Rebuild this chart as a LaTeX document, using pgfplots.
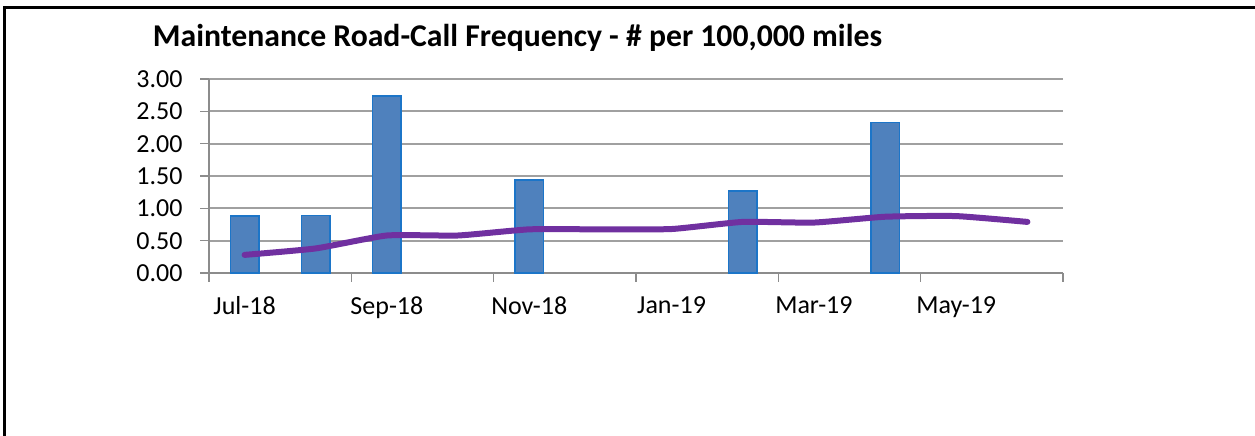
\documentclass[border=0pt]{standalone}
\usepackage{pgfplots}
\pgfplotsset{compat=1.18}
\usepackage{fontspec}
\setmainfont{Carlito}
\definecolor{barfill}{HTML}{4F81BD}
\definecolor{baredge}{HTML}{1C75C8}
\definecolor{linepurple}{HTML}{7030A0}
\definecolor{gridgray}{HTML}{A0A0A0}
\definecolor{axisgray}{HTML}{8C8C8C}
\begin{document}
\begin{tikzpicture}
\path[use as bounding box] (0,0) rectangle (1255bp,436bp);
\draw[black, line width=3bp] (4.5bp,0) -- (4.5bp,428.5bp) -- (1255bp,428.5bp);
\node[anchor=base, font=\fontsize{31.7bp}{36bp}\selectfont\bfseries] at (517.5bp,389bp) {Maintenance Road-Call Frequency - \# per 100,000 miles};
\begin{axis}[
  at={(209bp,163bp)}, anchor=origin,
  scale only axis, width=854bp, height=194bp,
  xmin=0.5, xmax=12.5, ymin=0, ymax=3,
  axis x line*=bottom, axis y line*=left,
  axis line style={axisgray, line width=1.5bp},
  xtick={0.5,2.5,4.5,6.5,8.5,10.5,12.5},
  xticklabels={},
  extra x ticks={1,3,5,7,9,11},
  extra x tick labels={Jul-18,Sep-18,Nov-18,Jan-19,Mar-19,May-19},
  extra x tick style={major tick length=0pt, xticklabel style={yshift=-20bp}},
  ytick={0,0.5,1,1.5,2,2.5,3},
  yticklabel style={xshift=-14bp, /pgf/number format/fixed, /pgf/number format/fixed zerofill, /pgf/number format/precision=2, /pgf/number format/assume math mode=true},
  tick align=outside, major tick length=9bp,
  tick style={axisgray, line width=1.5bp},
  ymajorgrids, grid style={gridgray, line width=2bp},
  tick label style={font=\fontsize{26bp}{30bp}\selectfont},
  clip=false,
]
\addplot[ybar, bar width=28.5bp, fill=barfill, draw=baredge, line width=1.5bp] coordinates {
  (1,0.88) (2,0.89) (3,2.74) (5,1.44) (8,1.27) (10,2.33)
};
\addplot[linepurple, line width=6bp, smooth, tension=0.3, line cap=round, line join=round] coordinates {
  (1,0.28) (2,0.38) (3,0.58) (4,0.58) (5,0.675) (6,0.675) (7,0.68) (8,0.79) (9,0.78) (10,0.87) (11,0.88) (12,0.79)
};
\end{axis}
\end{tikzpicture}
\end{document}
